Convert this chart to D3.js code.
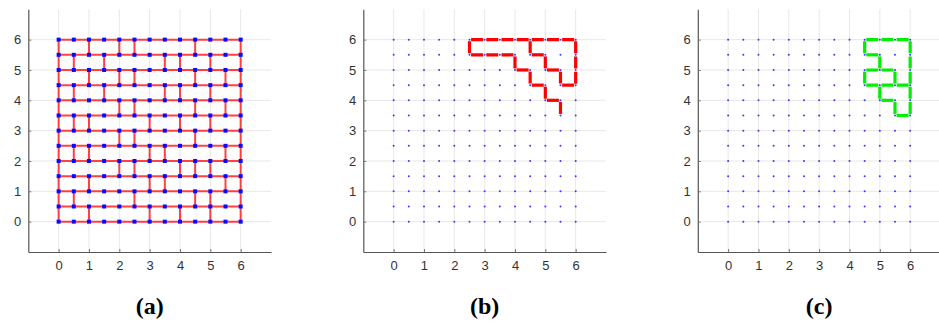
<!DOCTYPE html>
<html>
<head>
<meta charset="utf-8">
<script src="https://cdn.jsdelivr.net/npm/d3@7"></script>
<style>
  html, body { margin: 0; padding: 0; background: #fff; }
  svg { display: block; }
</style>
</head>
<body>
<svg id="chart" width="939" height="323"></svg>
<script>
// ---------- data ----------
const tickValues = [0, 1, 2, 3, 4, 5, 6];
const latticeSteps = [0, 0.5, 1, 1.5, 2, 2.5, 3, 3.5, 4, 4.5, 5, 5.5, 6];
const panelLabels = ["a", "b", "c"];

// maze (panel a): every row is a full horizontal wall from 0 to 6
const mazeRows = [0, 0.5, 1, 1.5, 2, 2.5, 3, 3.5, 4, 4.5, 5, 5.5, 6];
// border columns run the whole height
const mazeBorderCols = [0, 6];
// interior vertical edges: lower row y -> x positions of the connecting edge (y .. y+0.5)
const mazeVerticals = [
  { y: 5.5, xs: [1, 2, 2.5, 4.5] },
  { y: 5.0, xs: [0.5, 1.5, 3.5, 4, 5] },
  { y: 4.5, xs: [1, 2, 2.5, 4.5, 5.5] },
  { y: 4.0, xs: [0.5, 1.5, 3.5, 4, 5] },
  { y: 3.5, xs: [2, 2.5, 4.5, 5.5] },
  { y: 3.0, xs: [0.5, 1, 3, 4, 5] },
  { y: 2.5, xs: [2, 2.5, 4.5] },
  { y: 2.0, xs: [0.5, 1, 3, 3.5, 5.5] },
  { y: 1.5, xs: [2, 2.5, 4, 4.5, 5] },
  { y: 1.0, xs: [1, 3, 3.5, 5.5] },
  { y: 0.5, xs: [0.5, 2.5, 4.5, 5] },
  { y: 0.0, xs: [1, 3, 4, 5] }
];

// panel b: red path edges [x1, y1, x2, y2]
const redPath = [
  [2.5, 6, 2.5, 5.5],
  [2.5, 6, 4.5, 6],
  [4.5, 6, 6, 6],
  [4.5, 6, 4.5, 5.5],
  [2.5, 5.5, 4, 5.5],
  [4, 5.5, 4, 5],
  [4, 5, 4.5, 5],
  [4.5, 5, 4.5, 4.5],
  [4.5, 4.5, 5, 4.5],
  [5, 4.5, 5, 4],
  [5, 4, 5.5, 4],
  [5.5, 4, 5.5, 3.5],
  [4.5, 5.5, 5, 5.5],
  [5, 5.5, 5, 5],
  [5, 5, 5.5, 5],
  [5.5, 5, 5.5, 4.5],
  [5.5, 4.5, 6, 4.5],
  [6, 6, 6, 4.5]
];

// panel c: green path edges [x1, y1, x2, y2]
const greenPath = [
  [4.5, 6, 6, 6],
  [4.5, 6, 4.5, 5.5],
  [4.5, 5.5, 5, 5.5],
  [5, 5.5, 5, 5],
  [4.5, 5, 5.5, 5],
  [4.5, 5, 4.5, 4.5],
  [5.5, 5, 5.5, 4.5],
  [4.5, 4.5, 6, 4.5],
  [5, 4.5, 5, 4],
  [5, 4, 5.5, 4],
  [5.5, 4, 5.5, 3.5],
  [5.5, 3.5, 6, 3.5],
  [6, 6, 6, 3.5]
];

// ---------- layout ----------
const svg = d3.select("#chart");
const panelLeft = [28.3, 363.3, 697.8];
const plotW = 242.7;
const plotTop = 9.3, plotBottom = 252;
const domain = [-1, 7];

const lattice = [];
latticeSteps.forEach(x => latticeSteps.forEach(y => lattice.push([x, y])));

panelLeft.forEach((L, i) => {
  const x = d3.scaleLinear().domain(domain).range([L, L + plotW]);
  const y = d3.scaleLinear().domain(domain).range([plotBottom, plotTop]);
  const g = svg.append("g");

  // grid
  g.append("g").selectAll("line").data(tickValues).join("line")
    .attr("x1", d => x(d)).attr("x2", d => x(d))
    .attr("y1", y(domain[0])).attr("y2", y(domain[1]))
    .attr("stroke", "#e8e8e8").attr("stroke-width", 1);
  g.append("g").selectAll("line").data(tickValues).join("line")
    .attr("y1", d => y(d)).attr("y2", d => y(d))
    .attr("x1", x(domain[0])).attr("x2", x(domain[1]))
    .attr("stroke", "#e8e8e8").attr("stroke-width", 1);

  // axes
  const ax = g.append("g").attr("transform", `translate(0,${plotBottom})`)
    .call(d3.axisBottom(x).tickValues(tickValues).tickSizeInner(-3).tickSizeOuter(0).tickPadding(9));
  const ay = g.append("g").attr("transform", `translate(${L},0)`)
    .call(d3.axisLeft(y).tickValues(tickValues).tickSizeInner(-3).tickSizeOuter(0).tickPadding(7));
  [ax, ay].forEach(a => {
    a.select(".domain").attr("stroke", "#555").attr("stroke-width", 1.2);
    a.selectAll(".tick line").attr("stroke", "#777");
    a.selectAll(".tick text").attr("fill", "#333")
      .style("font-family", "'Liberation Sans', Arial, sans-serif").style("font-size", "13px");
  });

  if (i === 0) {
    const mg = g.append("g").attr("stroke", "#ff2020").attr("stroke-width", 2)
      .attr("stroke-opacity", 0.85).attr("stroke-linecap", "square");
    mg.selectAll("line.h").data(mazeRows).join("line").attr("class", "h")
      .attr("x1", x(0)).attr("x2", x(6))
      .attr("y1", d => y(d)).attr("y2", d => y(d));
    mg.selectAll("line.b").data(mazeBorderCols).join("line").attr("class", "b")
      .attr("x1", d => x(d)).attr("x2", d => x(d))
      .attr("y1", y(0)).attr("y2", y(6));
    const vEdges = [];
    mazeVerticals.forEach(r => r.xs.forEach(xx => vEdges.push([xx, r.y])));
    mg.selectAll("line.v").data(vEdges).join("line").attr("class", "v")
      .attr("x1", d => x(d[0])).attr("x2", d => x(d[0]))
      .attr("y1", d => y(d[1])).attr("y2", d => y(d[1] + 0.5));
    g.append("g").selectAll("rect").data(lattice).join("rect")
      .attr("x", d => x(d[0]) - 2).attr("y", d => y(d[1]) - 2)
      .attr("width", 4).attr("height", 4).attr("fill", "#0a0aff");
  } else {
    g.append("g").selectAll("circle").data(lattice).join("circle")
      .attr("cx", d => x(d[0])).attr("cy", d => y(d[1]))
      .attr("r", 1).attr("fill", "#3a3aff");
    const edges = i === 1 ? redPath : greenPath;
    const col = i === 1 ? "#ff0000" : "#00ee00";
    g.append("g").selectAll("line").data(edges).join("line")
      .attr("x1", d => x(d[0])).attr("y1", d => y(d[1]))
      .attr("x2", d => x(d[2])).attr("y2", d => y(d[3]))
      .attr("stroke", col).attr("stroke-width", 3.2)
      .attr("stroke-dasharray", "12,3.2").attr("stroke-dashoffset", -1.6);
  }

  // caption
  const cx = (x(domain[0]) + x(domain[1])) / 2;
  const cap = svg.append("text").attr("x", cx).attr("y", 314)
    .attr("text-anchor", "middle")
    .style("font-family", "'Liberation Serif', 'Times New Roman', serif")
    .style("font-size", "24px").style("font-weight", "bold").attr("fill", "#000");
  cap.append("tspan").text("(");
  cap.append("tspan").text(panelLabels[i]);
  cap.append("tspan").text(")");
});
</script>
</body>
</html>
